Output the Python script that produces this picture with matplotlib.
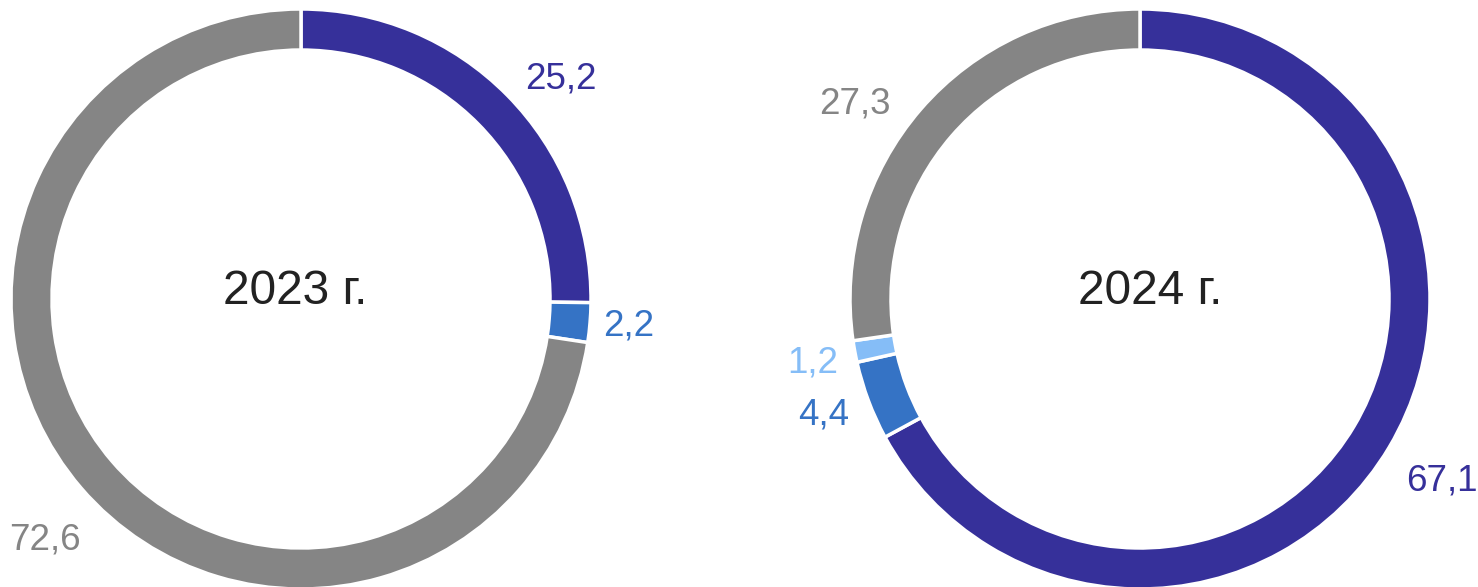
import matplotlib.pyplot as plt

plt.rcParams['font.family'] = ['Liberation Sans', 'DejaVu Sans']

dark_blue = '#36309a'
mid_blue = '#3573c5'
light_blue = '#85bdf7'
gray = '#858585'

years = ['2023 г.', '2024 г.']
values_2023 = [25.2, 2.2, 72.6]
colors_2023 = [dark_blue, mid_blue, gray]
values_2024 = [67.1, 4.4, 1.2, 27.3]
colors_2024 = [dark_blue, mid_blue, light_blue, gray]

# label positions in pixels (x, y from top)
label_pos_2023 = [(561, 79), (629, 326), (45, 540)]
label_pos_2024 = [(1442, 481), (824, 415), (813, 363), (855, 104)]

W, H = 1478, 587
fig = plt.figure(figsize=(W / 100, H / 100), dpi=100)
ax = fig.add_axes([0, 0, 1, 1])
ax.set_xlim(0, W)
ax.set_ylim(0, H)
ax.set_aspect('equal')
ax.axis('off')

R = 290
ring = 41


def donut(cx, cy, values, colors, label_pos, title, title_x):
    ax.pie(values, colors=colors, center=(cx, H - cy), radius=R,
           startangle=90, counterclock=False,
           wedgeprops=dict(width=ring, edgecolor='white', linewidth=2.5),
           frame=True)
    for v, c, (lx, ly) in zip(values, colors, label_pos):
        ax.text(lx, H - ly, f'{v:.1f}'.replace('.', ','), color=c,
                fontsize=26.5, ha='center', va='center')
    ax.text(title_x, H - 291, title, fontsize=34.5, color='#222222',
            ha='center', va='center')


donut(301, 299, values_2023, colors_2023, label_pos_2023, years[0], 295)
donut(1140, 299, values_2024, colors_2024, label_pos_2024, years[1], 1150)

ax.set_xlim(0, W)
ax.set_ylim(0, H)
ax.axis('off')

fig.savefig('out.png', dpi=100)
